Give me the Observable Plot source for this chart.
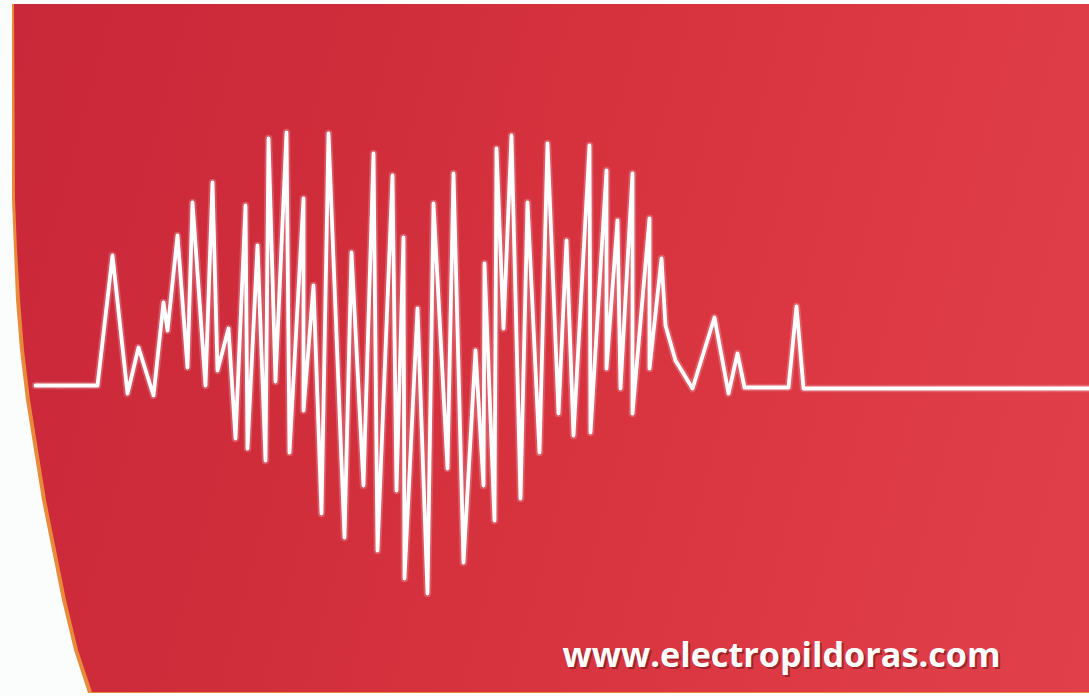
<!DOCTYPE html>
<html>
<head>
<meta charset="utf-8">
<script src="https://cdn.jsdelivr.net/npm/d3@7"></script>
<script src="https://cdn.jsdelivr.net/npm/@observablehq/plot@0.6"></script>
<style>
  html, body { margin: 0; padding: 0; background: #ffffff; }
  #wrap { position: relative; width: 1089px; height: 696px; overflow: hidden; background: #fbfcfc; }
  #edge, #panel { position: absolute; left: 0; top: 0; width: 1089px; height: 696px; }
  #edge {
    background: #e98a3a;
    clip-path: polygon(12px 4px, 1089px 4px, 1089px 693px, 88px 693px, 74px 650px, 62px 600px, 52px 550px, 42px 500px, 34px 450px, 26px 400px, 20px 350px, 16px 300px, 14px 250px, 12px 200px);
  }
  #panel {
    background: linear-gradient(105deg, #c9283a 0%, #d02d3b 30%, #d93540 60%, #e1404a 100%);
    clip-path: polygon(14px 4px, 1089px 4px, 1089px 692px, 92px 692px, 78px 650px, 66px 600px, 56px 550px, 46px 500px, 38px 450px, 30px 400px, 24px 350px, 20px 300px, 17px 250px, 15px 200px);
  }
  #chart { position: absolute; left: 0; top: 0; }
  #chart svg { background: transparent !important; }
</style>
</head>
<body>
<div id="wrap">
  <div id="edge"></div>
  <div id="panel"></div>
  <div id="chart"></div>
</div>
<script>
// time (horizontal units) of each vertex of the trace
const time = [35, 97, 112, 127, 138, 153, 163, 167, 177, 187, 192, 205, 212, 217, 228, 235, 245, 247, 257, 265,
  268, 275, 286, 289, 303, 303, 313, 321, 328, 344, 351, 363, 373, 377, 392, 396, 403, 404, 417, 427,
  433, 447, 453, 463, 475, 483, 484, 494, 496, 503, 511, 520, 527, 539, 547, 558, 566, 573, 589, 590,
  606, 606, 617, 620, 632, 632, 649, 649, 661, 665, 675, 692, 714, 728, 737, 744, 788, 796, 803, 1089];
// amplitude of each vertex (positive = up from the baseline)
const amplitude = [1, 1, 131, -7, 39, -9, 84, 56, 151, 19, 184, 1, 204, 16, 58, -52, 181, -62, 141, -74,
  248, 5, 254, -66, 188, -24, 101, -127, 253, -151, 134, -99, 233, -164, 211, -104, 149, -192, 78, -207,
  183, -82, 213, -176, 36, -99, 123, -134, 238, 58, 251, -112, 184, -66, 243, -27, 146, -49, 241, -46,
  216, 18, 166, -2, 213, -27, 168, 18, 128, 61, 26, -2, 69, -7, 33, -1, -1, 80, -2, -2];
const caption = "www.electropildoras.com";

const data = time.map((t, i) => ({t, v: amplitude[i]}));

const chart = Plot.plot({
  width: 1089,
  height: 696,
  margin: 0,
  x: {domain: [0, 1089], axis: null},
  y: {domain: [-310, 386], axis: null},
  style: {background: "transparent", overflow: "visible"},
  marks: [
    Plot.line(data, {x: "t", y: "v", stroke: "#ffffff", strokeWidth: 7.5, strokeOpacity: 0.2, strokeLinejoin: "round"}),
    Plot.line(data, {x: "t", y: "v", stroke: "#ffffff", strokeWidth: 3.8, strokeLinejoin: "round", strokeLinecap: "round"}),
    Plot.text([caption], {text: d => d, frameAnchor: "bottom-right", dx: -87, dy: -28, fill: "#6a1418", fillOpacity: 0.55,
      fontFamily: "Open Sans", fontWeight: "bold", fontSize: 34.2, textAnchor: "end", lineAnchor: "bottom"}),
    Plot.text([caption], {text: d => d, frameAnchor: "bottom-right", dx: -89, dy: -30, fill: "#ffffff",
      fontFamily: "Open Sans", fontWeight: "bold", fontSize: 34.2, textAnchor: "end", lineAnchor: "bottom"})
  ]
});
document.getElementById("chart").appendChild(chart);
</script>
</body>
</html>
